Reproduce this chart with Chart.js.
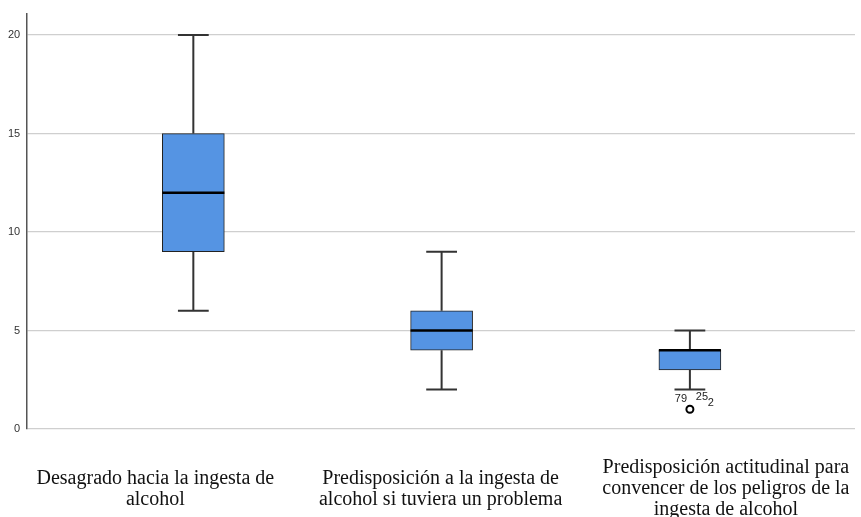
<!DOCTYPE html>
<html lang="es">
<head>
    <meta charset="UTF-8">
    <title>Diagrama de cajas</title>
    <script src="https://cdn.jsdelivr.net/npm/chart.js"></script>
    <style>
        body {
            margin: 0;
            background: white;
        }
        .chart-container {
            width: 861px;
            height: 517px;
        }
    </style>
</head>
<body>
    <div class="chart-container">
        <canvas id="boxChart"></canvas>
    </div>

    <script>
        // Categories (multi-line labels)
        const categories = [
            ['Desagrado hacia la ingesta de', 'alcohol'],
            ['Predisposición a la ingesta de', 'alcohol si tuviera un problema'],
            ['Predisposición actitudinal para', 'convencer de los peligros de la', 'ingesta de alcohol']
        ];
        const minValues = [6, 2, 2];
        const q1Values = [9, 4, 3];
        const medianValues = [12, 5, 4];
        const q3Values = [15, 6, 4];
        const maxValues = [20, 9, 5];
        const outlierValues = [[], [], [1]];
        const outlierLabels = [[], [], ['79', '25', '2']];
        const yTicks = [0, 5, 10, 15, 20];

        // SPSS spreads the axis labels evenly, not under the boxes
        const labelShift = [-0.153, -0.004, 0.145];

        const boxColor = '#5594e3';

        // whiskers + median drawn with the chart's own scales
        const boxPlotPlugin = {
            id: 'boxPlot',
            beforeDatasetsDraw(chart) {
                const ctx = chart.ctx;
                const x = chart.scales.x;
                const y = chart.scales.y;
                ctx.save();
                ctx.strokeStyle = '#333';
                ctx.lineWidth = 2;
                categories.forEach((c, i) => {
                    const cx = x.getPixelForValue(i + 1);
                    const capL = x.getPixelForValue(i + 1 - 0.062);
                    const capR = x.getPixelForValue(i + 1 + 0.062);
                    ctx.beginPath();
                    ctx.moveTo(cx, y.getPixelForValue(minValues[i]));
                    ctx.lineTo(cx, y.getPixelForValue(q1Values[i]));
                    ctx.moveTo(cx, y.getPixelForValue(q3Values[i]));
                    ctx.lineTo(cx, y.getPixelForValue(maxValues[i]));
                    ctx.moveTo(capL, y.getPixelForValue(minValues[i]));
                    ctx.lineTo(capR, y.getPixelForValue(minValues[i]));
                    ctx.moveTo(capL, y.getPixelForValue(maxValues[i]));
                    ctx.lineTo(capR, y.getPixelForValue(maxValues[i]));
                    ctx.stroke();
                });
                ctx.restore();
            },
            afterDatasetsDraw(chart) {
                const ctx = chart.ctx;
                const x = chart.scales.x;
                const y = chart.scales.y;
                ctx.save();
                ctx.strokeStyle = '#000';
                ctx.lineWidth = 2.5;
                categories.forEach((c, i) => {
                    const l = x.getPixelForValue(i + 1 - 0.125);
                    const r = x.getPixelForValue(i + 1 + 0.125);
                    const my = y.getPixelForValue(medianValues[i]);
                    ctx.beginPath();
                    ctx.moveTo(l, my);
                    ctx.lineTo(r, my);
                    ctx.stroke();
                });
                // outlier case labels
                ctx.fillStyle = '#222';
                ctx.font = '11px Arial, "Liberation Sans", sans-serif';
                ctx.textAlign = 'center';
                ctx.textBaseline = 'middle';
                outlierValues.forEach((vals, i) => {
                    vals.forEach(v => {
                        const px = x.getPixelForValue(i + 1);
                        const py = y.getPixelForValue(v);
                        const labels = outlierLabels[i];
                        ctx.fillText(labels[0], px - 9, py - 10);
                        ctx.fillText(labels[1], px + 12, py - 12);
                        ctx.fillText(labels[2], px + 21, py - 6);
                    });
                });
                ctx.restore();
            }
        };

        const outlierPoints = [];
        outlierValues.forEach((vals, i) => vals.forEach(v => outlierPoints.push({ x: i + 1, y: v })));

        new Chart(document.getElementById('boxChart').getContext('2d'), {
            type: 'bar',
            data: {
                datasets: [{
                    label: 'Cajas',
                    data: categories.map((c, i) => ({ x: i + 1, y: [q1Values[i], q3Values[i]] })),
                    backgroundColor: boxColor,
                    borderColor: '#222',
                    borderWidth: 1,
                    borderSkipped: false,
                    barThickness: 62
                }, {
                    type: 'scatter',
                    label: 'Atípicos',
                    data: outlierPoints,
                    pointRadius: 3.5,
                    pointBackgroundColor: 'white',
                    pointBorderColor: '#000',
                    pointBorderWidth: 2
                }]
            },
            options: {
                responsive: true,
                maintainAspectRatio: false,
                animation: false,
                layout: {
                    padding: { top: 14, right: 0, bottom: 0, left: 1 }
                },
                plugins: {
                    legend: { display: false },
                    tooltip: { enabled: false }
                },
                scales: {
                    x: {
                        type: 'linear',
                        offset: false,
                        min: 0.331,
                        max: 3.665,
                        afterBuildTicks: axis => { axis.ticks = categories.map((c, i) => ({ value: i + 1 + labelShift[i] })); },
                        afterFit: axis => {
                            axis.height = 88;
                            axis.paddingLeft = 0;
                            axis.paddingRight = 0;
                        },
                        ticks: {
                            callback: (v, i) => categories[i],
                            color: '#111',
                            padding: 31,
                            crossAlign: 'center',
                            maxRotation: 0,
                            autoSkip: false,
                            font: { family: '"Liberation Serif", "DejaVu Serif", serif', size: 20, lineHeight: 1.05 }
                        },
                        grid: { display: false },
                        border: { display: false }
                    },
                    y: {
                        min: 0,
                        max: 21.07,
                        afterBuildTicks: axis => { axis.ticks = yTicks.map(v => ({ value: v })); },
                        ticks: {
                            color: '#333',
                            padding: 7,
                            font: { family: 'Arial, "Liberation Sans", sans-serif', size: 11 }
                        },
                        grid: {
                            color: '#cfcfcf',
                            lineWidth: 1.2,
                            drawTicks: false
                        },
                        border: { color: '#555', width: 1.5 }
                    }
                }
            },
            plugins: [boxPlotPlugin]
        });
    </script>
</body>
</html>
